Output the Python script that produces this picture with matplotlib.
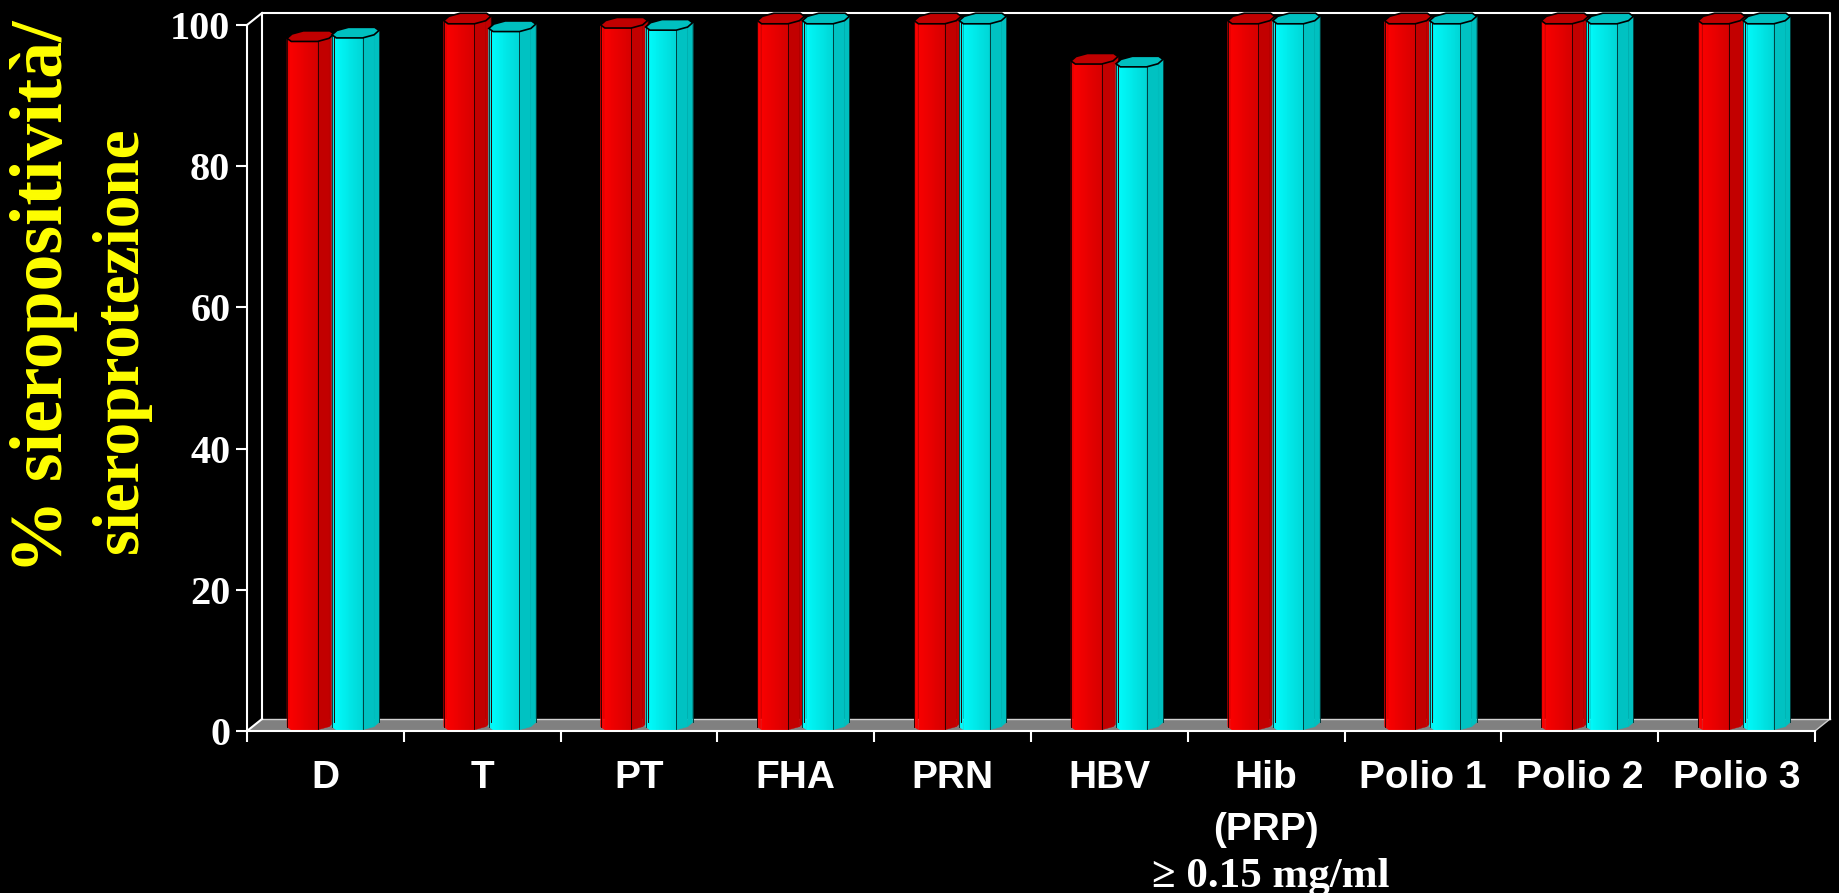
import matplotlib
matplotlib.use("Agg")
import matplotlib.pyplot as plt
from matplotlib.patches import Polygon

# data
categories = ["D", "T", "PT", "FHA", "PRN", "HBV", "Hib\n(PRP)", "Polio 1", "Polio 2", "Polio 3"]
red_values = [97.5, 100, 99.4, 100, 100, 94.3, 100, 100, 100, 100]
cyan_values = [98.0, 98.9, 99.1, 100, 100, 93.9, 100, 100, 100, 100]
y_ticks = [0, 20, 40, 60, 80, 100]
ylabel_1 = "% sieropositività/"
ylabel_2 = "sieroprotezione"
hib_note = "≥ 0.15 mg/ml"

# colours: front gradient start/end, side, cap
red_cols = ("#FF0000", "#D60000", "#C20000", "#C00000")
cyan_cols = ("#00FFFF", "#00D6D6", "#00C2C2", "#00C0C0")

# 3d look
CDX, CDY = 0.0957, 1.7      # chart depth (x units, y units)
BAR_W = 0.268               # front width of a bar
CORNER = 0.05               # octagon corner cut
BAR_DX, BAR_DY = 0.077, 1.5  # bar depth projection
BASE_Z = 0.1                # where bars sit in the depth

fig = plt.figure(figsize=(18.39, 8.93), dpi=100, facecolor="black")
ax = fig.add_axes([247 / 1839, 162 / 893, 1568 / 1839, 706 / 893])
ax.set_facecolor("none")
ax.set_xlim(0, 10)
ax.set_ylim(0, 100)

wh = "white"
lw = 1.5
# floor
floor = Polygon([(0, 0), (10, 0), (10 + CDX, CDY), (CDX, CDY)], closed=True,
                facecolor="#808080", edgecolor="none", clip_on=False, zorder=1)
ax.add_patch(floor)
ax.plot([CDX, 10 + CDX], [CDY, CDY], color="#d0d0d0", lw=1, clip_on=False, zorder=1.5)
ax.plot([0, CDX], [0, CDY], color=wh, lw=lw, clip_on=False, zorder=1.5)
ax.plot([10, 10 + CDX], [0, CDY], color="#d0d0d0", lw=1, clip_on=False, zorder=1.5)
# back wall
ax.plot([CDX, CDX, 10 + CDX, 10 + CDX], [CDY, 100 + CDY, 100 + CDY, CDY],
        color=wh, lw=lw, clip_on=False, zorder=1.5)
ax.plot([0, CDX], [100, 100 + CDY], color=wh, lw=lw, clip_on=False, zorder=1.5)


def mix(c1, c2, t):
    a = matplotlib.colors.to_rgb(c1)
    b = matplotlib.colors.to_rgb(c2)
    return tuple(a[i] + (b[i] - a[i]) * t for i in range(3))


def draw_bar(x0, value, cols):
    f = 0.293
    w = BAR_W
    c = CORNER
    oct_pts = [(c, 0), (w - c, 0), (w, f), (w, 1 - f), (w - c, 1), (c, 1), (0, 1 - f), (0, f)]
    x0 = x0 + BASE_Z * CDX
    base = BASE_Z * CDY
    top = value + base

    def proj(X, Z, y):
        return (x0 + X + Z * BAR_DX, y + Z * BAR_DY)

    # front faces with gradient: front-left and front
    faces = [((0, f), (c, 0), 3), ((c, 0), (w - c, 0), 14)]
    xl = proj(0, f, 0)[0]
    xr = proj(w - c, 0, 0)[0]
    for (a, b, n) in faces:
        for k in range(n):
            t0, t1 = k / n, (k + 1) / n
            pa = (a[0] + (b[0] - a[0]) * t0, a[1] + (b[1] - a[1]) * t0)
            pb = (a[0] + (b[0] - a[0]) * t1, a[1] + (b[1] - a[1]) * t1)
            xm = (proj(*pa, 0)[0] + proj(*pb, 0)[0]) / 2
            col = mix(cols[0], cols[1], (xm - xl) / (xr - xl))
            poly = [proj(*pa, base), proj(*pb, base), proj(*pb, top), proj(*pa, top)]
            ax.add_patch(Polygon(poly, closed=True, facecolor=col, edgecolor=col,
                                 lw=0.3, clip_on=False, zorder=2))
    # side faces
    for (a, b, col) in [((w - c, 0), (w, f), cols[2]), ((w, f), (w, 1 - f), cols[3])]:
        poly = [proj(*a, base), proj(*b, base), proj(*b, top), proj(*a, top)]
        ax.add_patch(Polygon(poly, closed=True, facecolor=col, edgecolor=col,
                             lw=0.3, clip_on=False, zorder=2))
    # outline lines
    for (X, Z) in [(0, f), (w - c, 0), (w, 1 - f)]:
        p0 = proj(X, Z, base)
        p1 = proj(X, Z, top)
        ax.plot([p0[0], p1[0]], [p0[1], p1[1]], color="#300000" if cols[0] == "#FF0000" else "#004040",
                lw=0.7, clip_on=False, zorder=2.1)
    # top cap
    cap = Polygon([proj(X, Z, top) for (X, Z) in oct_pts], closed=True,
                  facecolor=cols[3], edgecolor="black", lw=1.2, clip_on=False, zorder=2.2)
    ax.add_patch(cap)


for i in range(len(categories)):
    draw_bar(i + 0.223, red_values[i], red_cols)
    draw_bar(i + 0.510, cyan_values[i], cyan_cols)

# axes, ticks and labels
for s in ["top", "right"]:
    ax.spines[s].set_visible(False)
for s in ["left", "bottom"]:
    ax.spines[s].set_color(wh)
    ax.spines[s].set_linewidth(lw)
    ax.spines[s].set_zorder(3)

ax.set_yticks(y_ticks)
ax.set_yticklabels([str(t) for t in y_ticks], fontfamily="Liberation Serif",
                   fontweight="bold", fontsize=29, color=wh)
ax.tick_params(axis="y", direction="out", length=8, width=lw, color=wh, pad=4)

ax.set_xticks(range(11))
ax.set_xticklabels([""] * 11)
ax.tick_params(axis="x", which="major", direction="out", length=8, width=lw, color=wh)
ax.set_xticks([i + 0.5 for i in range(10)], minor=True)
ax.set_xticklabels(categories, minor=True, fontfamily="Liberation Sans",
                   fontweight="bold", fontsize=28, color=wh, linespacing=1.55)
ax.tick_params(axis="x", which="minor", length=0, pad=21)

ax.annotate(hib_note, xy=(6.5, 0), xycoords="data", xytext=(3, -112), textcoords="offset points",
            ha="center", va="baseline", fontfamily="Liberation Serif", fontweight="bold",
            fontsize=31, color=wh, annotation_clip=False)

fig.text(44 / 1839, (893 - 297) / 893, ylabel_1, rotation=90, ha="center", va="center",
         fontfamily="Liberation Serif", fontweight="bold", fontsize=53, color="#FFFF00")
fig.text(121 / 1839, (893 - 340) / 893, ylabel_2, rotation=90, ha="center", va="center",
         fontfamily="Liberation Serif", fontweight="bold", fontsize=47, color="#FFFF00")

fig.savefig("out.png", dpi=100, facecolor="black")
